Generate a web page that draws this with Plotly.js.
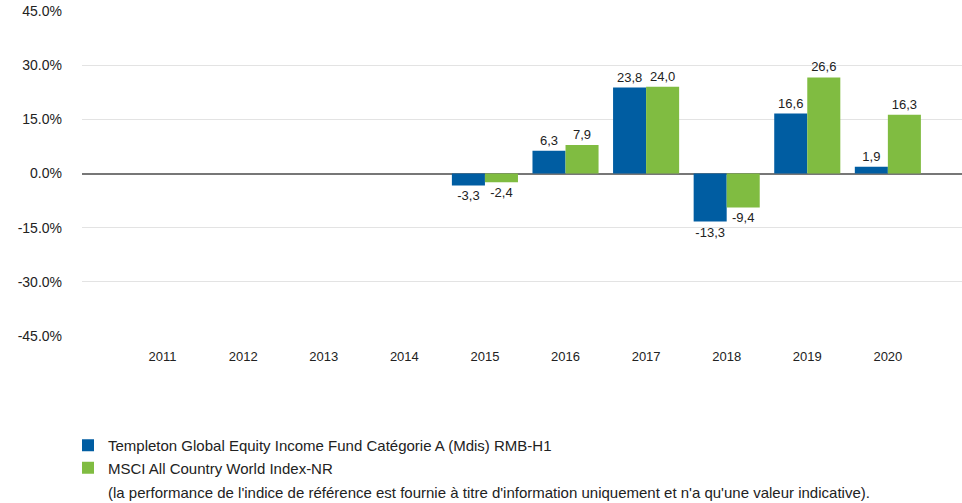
<!DOCTYPE html>
<html><head><meta charset="utf-8">
<script src="https://cdn.plot.ly/plotly-3.0.1.min.js"></script>
<style>html,body{margin:0;padding:0;background:#fff}#chart{width:962px;height:503px}</style>
</head><body><div id="chart"></div>
<script>
var years = ['2011','2012','2013','2014','2015','2016','2017','2018','2019','2020'];
var fundValues = [null,null,null,null,-3.3,6.3,23.8,-13.3,16.6,1.9];
var indexValues = [null,null,null,null,-2.4,7.9,24.0,-9.4,26.6,16.3];
var fundName = 'Templeton Global Equity Income Fund Catégorie A (Mdis) RMB-H1';
var indexName = 'MSCI All Country World Index-NR';
var noteText = "(la performance de l'indice de référence est fournie à titre d'information uniquement et n'a qu'une valeur indicative).";
var yTicks = [-45,-30,-15,0,15,30,45];
var yTickText = ['-45.0%','-30.0%','-15.0%','0.0%','15.0%','30.0%','45.0%'];

var FONT = '"Liberation Sans", Arial, sans-serif';
function fmt(v){ return v===null ? '' : v.toFixed(1).replace('.',','); }

var traces = [
  {type:'bar', name:fundName, x:years, y:fundValues, text:fundValues.map(fmt),
   textposition:'outside', cliponaxis:false, constraintext:'none', marker:{color:'#005DA2'},
   textfont:{family:FONT,size:13,color:'#222'}},
  {type:'bar', name:indexName, x:years, y:indexValues, text:indexValues.map(fmt),
   textposition:'outside', cliponaxis:false, constraintext:'none', marker:{color:'#80BC41'},
   textfont:{family:FONT,size:13,color:'#222'}}
];

var layout = {
  width:962, height:503,
  margin:{l:82, r:0, t:11, b:167, autoexpand:false},
  paper_bgcolor:'#fff', plot_bgcolor:'#fff',
  font:{family:FONT, size:13, color:'#222'},
  barmode:'group', bargap:0.18, bargroupgap:0,
  showlegend:true,
  xaxis:{type:'category', range:[-1.0,9.92], showgrid:false, zeroline:false, showline:false,
         ticks:'', tickfont:{family:FONT,size:13,color:'#222'}, ticklabelstandoff:11},
  yaxis:{range:[-45,45], tickvals:yTicks, ticktext:yTickText, showgrid:true, gridcolor:'#e3e3e3', gridwidth:1,
         zeroline:true, zerolinecolor:'#777', zerolinewidth:2, showline:false, ticks:'',
         tickfont:{family:FONT,size:14,color:'#222'}, ticklabelstandoff:19},
  legend:{orientation:'v', xref:'container', yref:'container', x:68/962, y:1-429/503, xanchor:'left', yanchor:'top',
          font:{family:FONT,size:15,color:'#222'}, traceorder:'normal', tracegroupgap:0, itemwidth:30, bgcolor:'rgba(0,0,0,0)'},
  annotations:[{xref:'paper', yref:'paper', x:(106-82)/880, y:-(493-336)/325, xanchor:'left', yanchor:'middle',
                text:noteText, showarrow:false, font:{family:FONT,size:15,color:'#222'}}]
};
Plotly.newPlot('chart', traces, layout, {displayModeBar:false, staticPlot:true});
</script></body></html>
